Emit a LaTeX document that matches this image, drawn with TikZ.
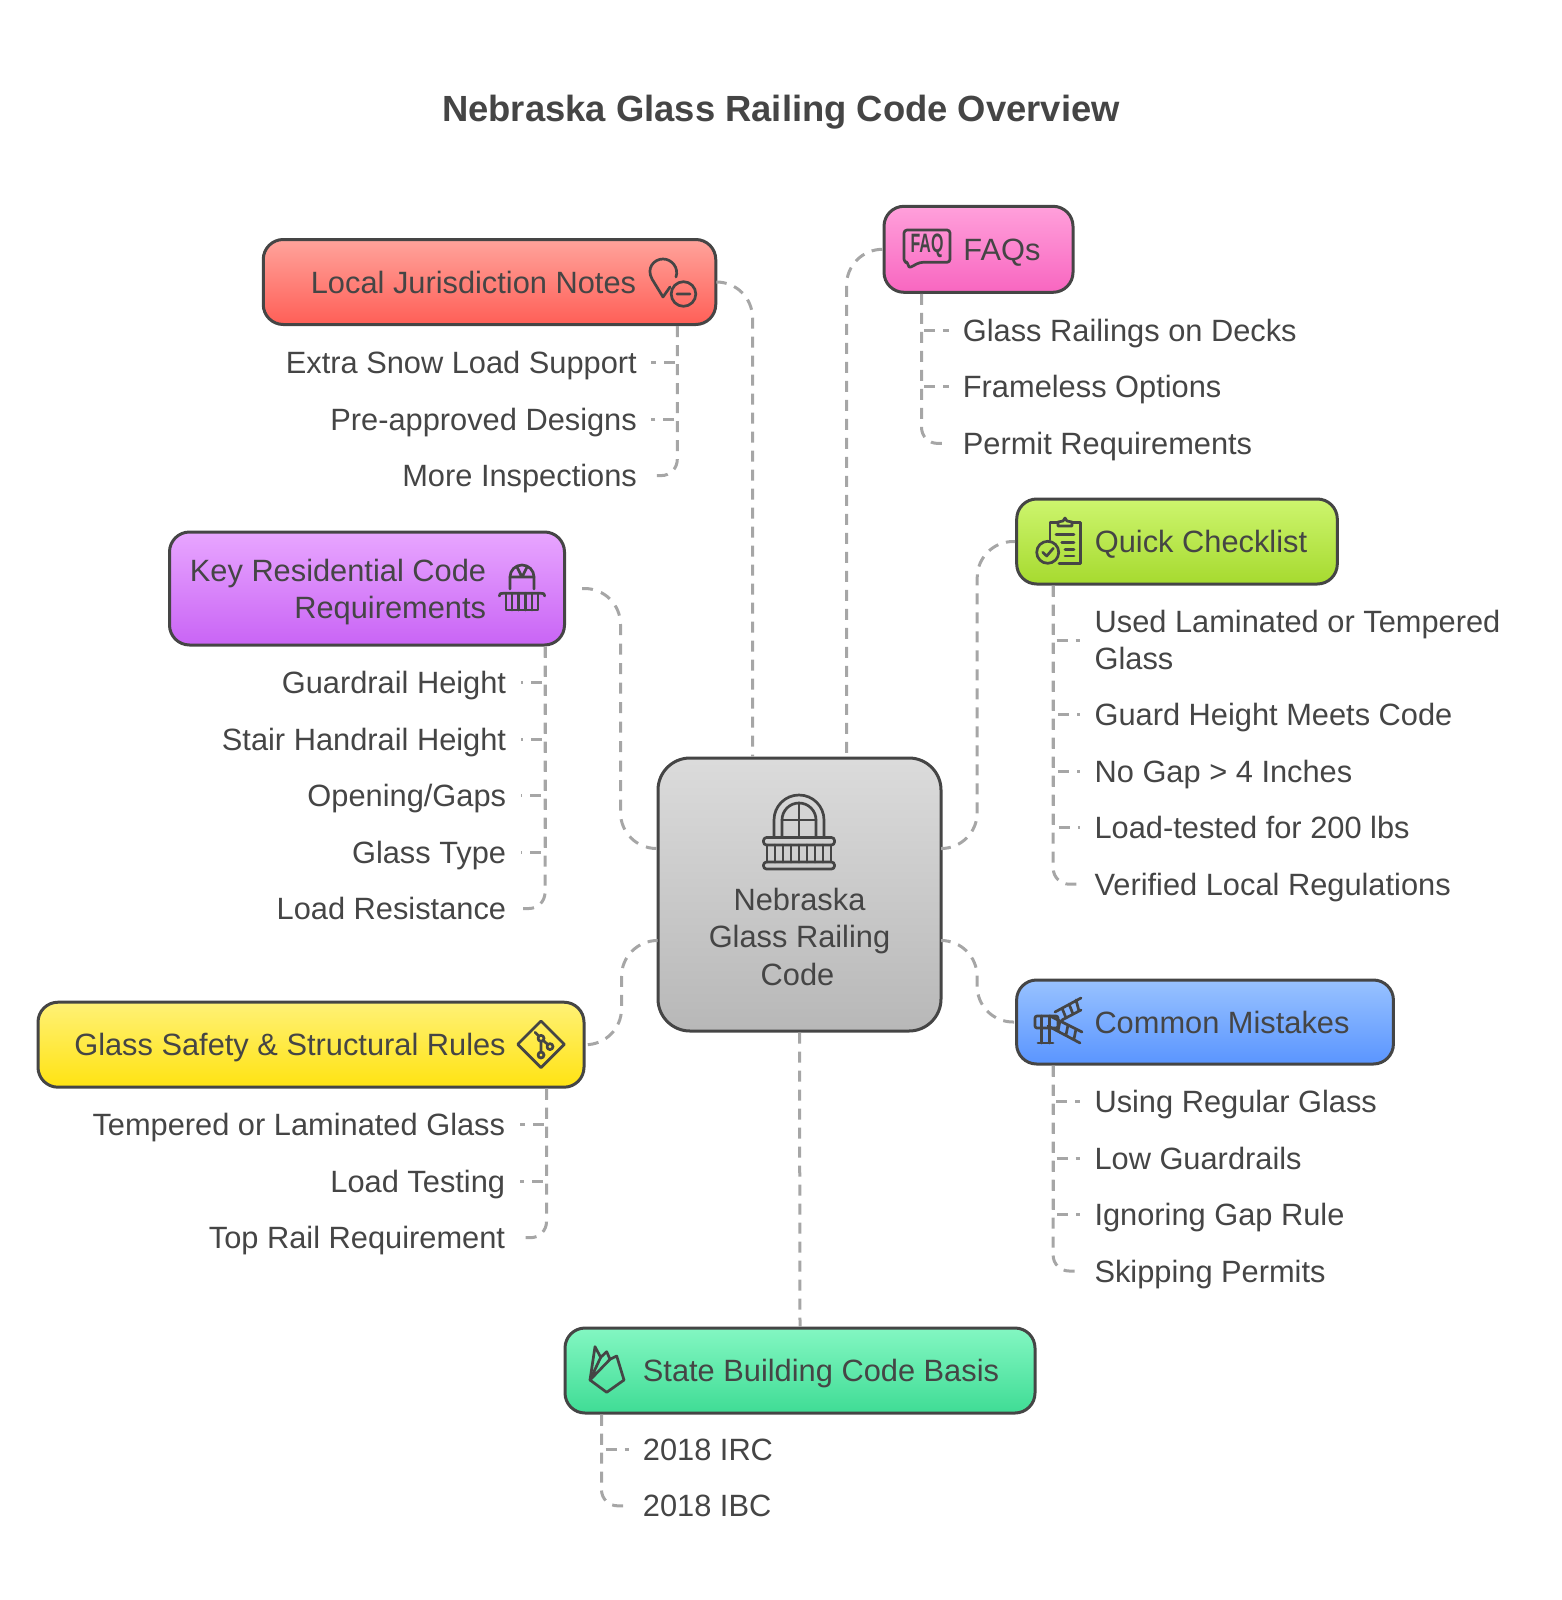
\documentclass[tikz,border=0pt]{standalone}
\usepackage{fontspec}
\usepackage{xcolor}
\usetikzlibrary{positioning}
\setmainfont{Liberation Sans}
\definecolor{ink}{HTML}{454545}
\definecolor{linkgray}{HTML}{A6A6A6}
\newcommand{\iconroom}[1]{\hspace*{#1}}

\begin{document}
\begin{tikzpicture}[
  x=0.5pt, y=-0.5pt,
  every node/.style={font=\fontsize{15.4}{18.6}\selectfont, text=ink},
  card/.style={rectangle, rounded corners=10pt, draw=ink, line width=1.5pt, inner sep=0pt, text height=12pt, text depth=1pt},
  bigcard/.style={rectangle, rounded corners=#1, draw=ink, line width=1.5pt, inner sep=0pt, align=center},
  itemr/.style={inner ysep=0pt, inner xsep=7pt, text height=12pt, text depth=1pt, anchor=east},
  iteml/.style={inner ysep=0pt, inner xsep=7pt, text height=12pt, text depth=1pt, anchor=west, align=left},
  link/.style={draw=linkgray, line width=1.5pt, dash pattern=on 5.5pt off 4pt, rounded corners=18pt},
  twig/.style={draw=linkgray, line width=1.5pt, dash pattern=on 5.5pt off 4pt, rounded corners=1pt},
  twiglast/.style={draw=linkgray, line width=1.5pt, dash pattern=on 5.5pt off 4pt, rounded corners=8pt},
  icon/.style={draw=ink, line width=1.35pt, line join=round, line cap=round}
]
\useasboundingbox (0,0) rectangle (1562,1600);

\node[font=\fontsize{18.2}{22}\selectfont\bfseries] (title) at (781,112) {Nebraska Glass Railing Code Overview};

\node[bigcard=16pt, minimum width=141.5pt, minimum height=136.5pt, top color=black!14, bottom color=black!28] (center) at (799.5,894.5) {\rule{0pt}{35pt}\\Nebraska\hspace*{2pt}\\Glass Railing\hspace*{2pt}\\Code\hspace*{2pt}};
\node[card, minimum width=226.25pt, minimum height=42.5pt, top color={rgb,255:red,255;green,163;blue,155}, bottom color={rgb,255:red,255;green,95;blue,87}] (local) at (489.5,282) {Local Jurisdiction Notes\iconroom{16pt}};
\node[card, minimum width=94.5pt, minimum height=43pt, top color={rgb,255:red,255;green,160;blue,219}, bottom color={rgb,255:red,248;green,102;blue,192}] (faq) at (978.5,249.3) {\iconroom{23.4pt}FAQs};
\node[card, minimum width=160.3pt, minimum height=42.5pt, top color={rgb,255:red,205;green,245;blue,110}, bottom color={rgb,255:red,166;green,218;blue,47}] (quick) at (1177,541.5) {\iconroom{24pt}Quick Checklist};
\node[bigcard=10pt, align=right, text height=31pt, text depth=1pt, minimum width=197.5pt, minimum height=56.5pt, top color={rgb,255:red,232;green,166;blue,255}, bottom color={rgb,255:red,201;green,100;blue,245}] (key) at (367,588.5) {Key Residential Code\iconroom{29pt}\\Requirements\iconroom{29pt}};
\node[card, minimum width=273pt, minimum height=42.5pt, top color={rgb,255:red,255;green,241;blue,118}, bottom color={rgb,255:red,255;green,227;blue,18}] (glass) at (311,1044.7) {Glass Safety \& Structural Rules\iconroom{21pt}};
\node[card, minimum width=188.4pt, minimum height=42pt, top color={rgb,255:red,152;green,194;blue,255}, bottom color={rgb,255:red,90;green,149;blue,255}] (common) at (1205,1022) {\iconroom{17pt}Common Mistakes};
\node[card, minimum width=235pt, minimum height=42.5pt, top color={rgb,255:red,131;green,247;blue,194}, bottom color={rgb,255:red,63;green,220;blue,149}] (state) at (800,1370.5) {\iconroom{21pt}State Building Code Basis};

\node[below=18.3pt of local.south east, xshift=-33pt, itemr] (snow) {Extra Snow Load Support};
\node[below=28.25pt of snow.east, itemr] (preapp) {Pre-approved Designs};
\node[below=28.25pt of preapp.east, itemr] (inspect) {More Inspections};

\node[below=18.3pt of faq.south west, xshift=33pt, iteml] (decks) {Glass Railings on Decks};
\node[below=28.25pt of decks.west, iteml] (frameless) {Frameless Options};
\node[below=28.25pt of frameless.west, iteml] (permit) {Permit Requirements};

\node[below=27.3pt of quick.south west, xshift=32.5pt, iteml, text height=30.6pt] (used) {Used Laminated or Tempered\\Glass};
\node[below=37.3pt of used.west, iteml] (height) {Guard Height Meets Code};
\node[below=28.25pt of height.west, iteml] (nogap) {No Gap > 4 Inches};
\node[below=28.25pt of nogap.west, iteml] (tested) {Load-tested for 200 lbs};
\node[below=28.25pt of tested.west, iteml] (verified) {Verified Local Regulations};

\node[below=18pt of key.south east, xshift=-22.75pt, itemr] (guard) {Guardrail Height};
\node[below=28.25pt of guard.east, itemr] (stair) {Stair Handrail Height};
\node[below=28.25pt of stair.east, itemr] (opening) {Opening/Gaps};
\node[below=28.25pt of opening.east, itemr] (gtype) {Glass Type};
\node[below=28.25pt of gtype.east, itemr] (resist) {Load Resistance};

\node[below=18pt of glass.south east, xshift=-33pt, itemr] (tempered) {Tempered or Laminated Glass};
\node[below=28.25pt of tempered.east, itemr] (testing) {Load Testing};
\node[below=28.25pt of testing.east, itemr] (toprail) {Top Rail Requirement};

\node[below=18pt of common.south west, xshift=32.5pt, iteml] (regular) {Using Regular Glass};
\node[below=28.25pt of regular.west, iteml] (low) {Low Guardrails};
\node[below=28.25pt of low.west, iteml] (ignoring) {Ignoring Gap Rule};
\node[below=28.25pt of ignoring.west, iteml] (skipping) {Skipping Permits};

\node[below=17.4pt of state.south west, xshift=32.5pt, iteml] (irc) {2018 IRC};
\node[below=28.25pt of irc.west, iteml] (ibc) {2018 IBC};

\draw[link] (local.east) -| ([xshift=-23.5pt]center.north);
\draw[link] (faq.west) -| ([xshift=23.5pt]center.north);
\draw[link] ([yshift=23pt]center.east) -| ([xshift=-19pt]quick.west) -- (quick.west);
\draw[link] ([yshift=-23pt]center.east) -| ([xshift=-19pt]common.west) -- (common.west);
\draw[link, dash pattern=on 5.5pt off 4.26pt] ([xshift=8pt]key.east) -| ([yshift=23pt,xshift=-18pt]center.west) -- ([yshift=23pt]center.west);
\draw[link] ([yshift=-23pt]center.west) -| ([xshift=18pt]glass.east) -- (glass.east);
\draw[link] (center.south) -- (state.north);

\draw[twig] ([xshift=-20pt]local.south east) |- (snow.east);
\draw[twig] ([xshift=-20pt]local.south east) |- (preapp.east);
\draw[twiglast] ([xshift=-20pt]local.south east) |- (inspect.east);

\draw[twig] ([xshift=19.5pt]faq.south west) |- (decks.west);
\draw[twig] ([xshift=19.5pt]faq.south west) |- (frameless.west);
\draw[twiglast] ([xshift=19.5pt]faq.south west) |- (permit.west);

\draw[twig] ([xshift=19pt]quick.south west) |- (used.west);
\draw[twig] ([xshift=19pt]quick.south west) |- (height.west);
\draw[twig] ([xshift=19pt]quick.south west) |- (nogap.west);
\draw[twig] ([xshift=19pt]quick.south west) |- (tested.west);
\draw[twiglast] ([xshift=19pt]quick.south west) |- (verified.west);

\draw[twig] ([xshift=-10.5pt]key.south east) |- (guard.east);
\draw[twig] ([xshift=-10.5pt]key.south east) |- (stair.east);
\draw[twig] ([xshift=-10.5pt]key.south east) |- (opening.east);
\draw[twig] ([xshift=-10.5pt]key.south east) |- (gtype.east);
\draw[twiglast] ([xshift=-10.5pt]key.south east) |- (resist.east);

\draw[twig] ([xshift=-19.5pt]glass.south east) |- (tempered.east);
\draw[twig] ([xshift=-19.5pt]glass.south east) |- (testing.east);
\draw[twiglast] ([xshift=-19.5pt]glass.south east) |- (toprail.east);

\draw[twig] ([xshift=19pt]common.south west) |- (regular.west);
\draw[twig] ([xshift=19pt]common.south west) |- (low.west);
\draw[twig] ([xshift=19pt]common.south west) |- (ignoring.west);
\draw[twiglast] ([xshift=19pt]common.south west) |- (skipping.west);

\draw[twig] ([xshift=19pt]state.south west) |- (irc.west);
\draw[twiglast] ([xshift=19pt]state.south west) |- (ibc.west);

\draw[icon, shift={(799,833)}] (-25,4) -- (-25,-13) arc[start angle=180, end angle=360, radius=25] -- (25,4);
\draw[icon, shift={(799,833)}] (-17,4) -- (-17,-13) arc[start angle=180, end angle=360, radius=17] -- (17,4);
\draw[icon, shift={(799,833)}] (0,-30) -- (0,4) (-17,-13) -- (17,-13);
\draw[icon, rounded corners=1.5pt, shift={(799,833)}] (-35.5,4.5) rectangle (35.5,12) (-35.5,29) rectangle (35.5,36);
\draw[icon, shift={(799,833)}] (-32,12) -- (-32,29) (-24,12) -- (-24,29) (-16,12) -- (-16,29) (-8,12) -- (-8,29) (0,12) -- (0,29) (8,12) -- (8,29) (16,12) -- (16,29) (24,12) -- (24,29) (32,12) -- (32,29);

\draw[icon, shift={(663,272)}] (7,15) -- (0,25) -- (-11,7) .. controls (-17,-4) and (-9,-13) .. (0,-13) .. controls (9,-13) and (16,-4) .. (13,5);
\draw[icon, shift={(663,272)}] (20.5,22) circle[radius=12.3] (14,22) -- (27,22);

\draw[icon, rounded corners=1.5pt, shift={(904,230)}] (0,0) -- (46,0) -- (46,32.3) -- (16,32.3) -- (4.3,38.3) -- (4.3,32.3) -- (0,32.3) -- cycle;
\node[font=\fontsize{13.3}{15}\selectfont\bfseries, inner sep=0pt] (faqglyph) at (927,246.2) {\scalebox{0.6}[1]{FAQ}};

\draw[icon, shift={(1065,540)}] (-15,0) -- (-15,-17.3) -- (-7,-17.3) (7,-17.3) -- (15.7,-17.3) -- (15.7,23.3) -- (-6,23.3);
\draw[icon, shift={(1065,540)}] (-7,-14) -- (-7,-18) -- (-2,-19) -- (0,-22) -- (2,-19) -- (7,-18) -- (7,-14) -- cycle;
\draw[icon, shift={(1065,540)}] (-9,-5.7) -- (9,-5.7) (-3.3,2.3) -- (9,2.3) (0,9.3) -- (9,9.3) (0,16) -- (9,16);
\draw[icon, shift={(1065,540)}] (-17.3,12.3) circle[radius=11] (-22.3,12.3) -- (-18.3,16) -- (-11.7,8.3);

\draw[icon, shift={(522,577)}] (-12,12) -- (-12,0) arc[start angle=180, end angle=360, radius=12] -- (12,12);
\draw[icon, shift={(522,577)}] (-12,0) -- (12,0) (0,0) -- (-5,-10) (0,0) -- (5,-10);
\draw[icon, shift={(522,577)}] (-22.7,19) .. controls (-22,16.3) .. (-19,16.3) -- (19,16.3) .. controls (22,16.3) .. (22.7,19);
\draw[icon, shift={(522,577)}] (-16,16.3) -- (-16,33) -- (16,33) -- (16,16.3) (-10,16.3) -- (-10,33) (-3.5,16.3) -- (-3.5,33) (3.5,16.3) -- (3.5,33) (10,16.3) -- (10,33);

\draw[icon, shift={(541,1044.3)}] (0,-23.3) -- (23.3,0) -- (0,23.3) -- (-23.3,0) -- cycle;
\draw[icon, shift={(541,1044.3)}] (0,-6) circle[radius=3] (9,2.3) circle[radius=3] (0,10.7) circle[radius=3];
\draw[icon, shift={(541,1044.3)}] (-6,-12) -- (-2,-8) (0,-3) -- (0,7.7) (2,-4) -- (7,0.3);

\draw[icon, rounded corners=1pt, shift={(1000,960)}] (35,56) rectangle (58,68);
\draw[icon, shift={(1000,960)}] (41.7,56) -- (41.7,83) (49.3,56) -- (49.3,83) (38,83) -- (53,83);
\draw[icon, shift={(1000,960)}] (50,56) -- (82,72) (48,66) -- (80,83) (60,61) -- (58,71) (68,65) -- (66,75) (76,69) -- (74,79);
\draw[icon, shift={(1000,960)}] (55,52) -- (81,38) (62,60) -- (81,50) (62,48) -- (66,58) (69,44) -- (73,54) (76,40) -- (79,51);

\draw[icon, shift={(560,1300)}] (30,80) -- (35,46.7) -- (40.7,57.3) -- (46.7,51.7) -- (50,59.3) -- (56.7,56) -- (64,80) -- (46.7,92.3) -- cycle;
\draw[icon, shift={(560,1300)}] (30,80) -- (40.7,57.3) (30,80) -- (50,59.3);

\end{tikzpicture}
\end{document}
